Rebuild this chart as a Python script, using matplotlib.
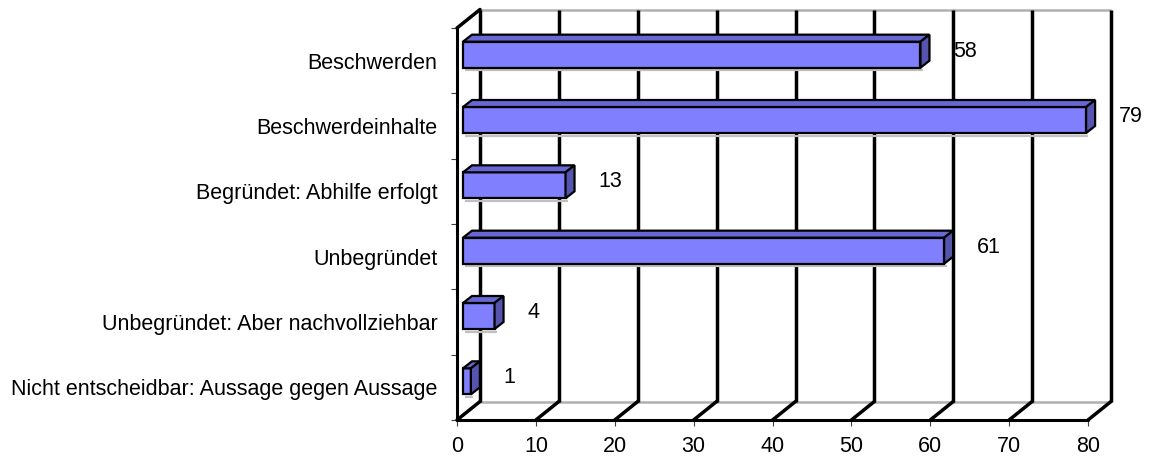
import matplotlib.pyplot as plt
from matplotlib.patches import Polygon
import numpy as np

plt.rcParams['font.family'] = ['Liberation Sans', 'DejaVu Sans']

categories = [
    'Beschwerden',
    'Beschwerdeinhalte',
    'Begründet: Abhilfe erfolgt',
    'Unbegründet',
    'Unbegründet: Aber nachvollziehbar',
    'Nicht entscheidbar: Aussage gegen Aussage',
]
values = [58, 79, 13, 61, 4, 1]
xticks = np.arange(0, 81, 10)

W, H, DPI = 1153, 467, 100
fig = plt.figure(figsize=(W / DPI, H / DPI), dpi=DPI)

# front plane of the 3d box
left_px, right_px, top_px, bottom_px = 457, 1088, 28, 420
ax = fig.add_axes([left_px / W, (H - bottom_px) / H,
                   (right_px - left_px) / W, (bottom_px - top_px) / H])
n = len(categories)
ax.set_xlim(0, 80)
ax.set_ylim(0, n)

ux = (right_px - left_px) / 80.0     # px per value unit
uy = (bottom_px - top_px) / n        # px per category

# wall depth, bar placement inside the depth
wdx, wdy = 23 / ux, 18.5 / uy
sx, sy = 6 / ux, 6 / uy
bdx, bdy = 9 / ux, 7 / uy
bh = 26 / uy

front_col = '#8080FF'
top_col = '#6868D4'
side_col = '#5555B0'
grey = '#B0B0B0'
lw_grid = 2.5
fs = 15.5

ypos = np.arange(n)[::-1] + 0.5

# back wall and floor
ax.plot([wdx, 80 + wdx], [n + wdy, n + wdy], color=grey, lw=1.8,
        clip_on=False, zorder=1, solid_capstyle='butt')
ax.plot([wdx, 80 + wdx], [wdy, wdy], color=grey, lw=1.8,
        clip_on=False, zorder=1, solid_capstyle='butt')
for v in xticks:
    ax.plot([v + wdx, v + wdx], [wdy, n + wdy], color='black', lw=lw_grid,
            clip_on=False, zorder=2, solid_capstyle='butt')
    ax.plot([v, v + wdx], [0, wdy], color='black', lw=lw_grid,
            clip_on=False, zorder=2, solid_capstyle='round')
ax.plot([0, wdx], [n, n + wdy], color='black', lw=lw_grid,
        clip_on=False, zorder=2, solid_capstyle='round')

# bars: front face via barh, top and end faces as polygons
ax.barh(ypos + sy, values, height=bh, left=sx, color=front_col,
        edgecolor='black', linewidth=1.6, zorder=4)
for y, v in zip(ypos, values):
    y0 = y + sy - bh / 2
    y1 = y + sy + bh / 2
    x0 = sx
    x1 = sx + v
    # soft shadow under the bar
    ax.plot([x0 + 0.3, x1 + 0.3], [y0 - 2.5 / uy, y0 - 2.5 / uy], color='#C0C0C0',
            lw=1.6, zorder=3, solid_capstyle='butt')
    top = Polygon([(x0, y1), (x1, y1), (x1 + bdx, y1 + bdy), (x0 + bdx, y1 + bdy)],
                  closed=True, facecolor=top_col, edgecolor='black',
                  linewidth=1.6, zorder=4, clip_on=False)
    side = Polygon([(x1, y0), (x1 + bdx, y0 + bdy), (x1 + bdx, y1 + bdy), (x1, y1)],
                   closed=True, facecolor=side_col, edgecolor='black',
                   linewidth=1.6, zorder=4, clip_on=False)
    ax.add_patch(top)
    ax.add_patch(side)
    ax.annotate(str(v), xy=(x1 + bdx, y + sy + bdy / 2), xytext=(17, 0),
                textcoords='offset points', ha='left', va='center',
                fontsize=fs, color='black', annotation_clip=False)

# axes frame
for s in ['top', 'right']:
    ax.spines[s].set_visible(False)
for s in ['left', 'bottom']:
    ax.spines[s].set_linewidth(2.2)
    ax.spines[s].set_zorder(5)
    ax.spines[s].set_capstyle('round')

ax.set_xticks(xticks)
ax.set_xticklabels([str(v) for v in xticks], fontsize=fs)
ax.tick_params(axis='x', length=4.5, width=0.8, pad=7, color='#404040')

ax.set_yticks(ypos)
ax.set_yticklabels(categories, fontsize=fs)
ax.set_yticks(np.arange(n + 1), minor=True)
ax.tick_params(axis='y', which='major', length=0, pad=14)
ax.tick_params(axis='y', which='minor', length=4, width=0.8, color='#404040')

ax.set_facecolor('none')
fig.patch.set_facecolor('white')

plt.savefig('out.png', dpi=DPI, facecolor='white')
plt.close()
